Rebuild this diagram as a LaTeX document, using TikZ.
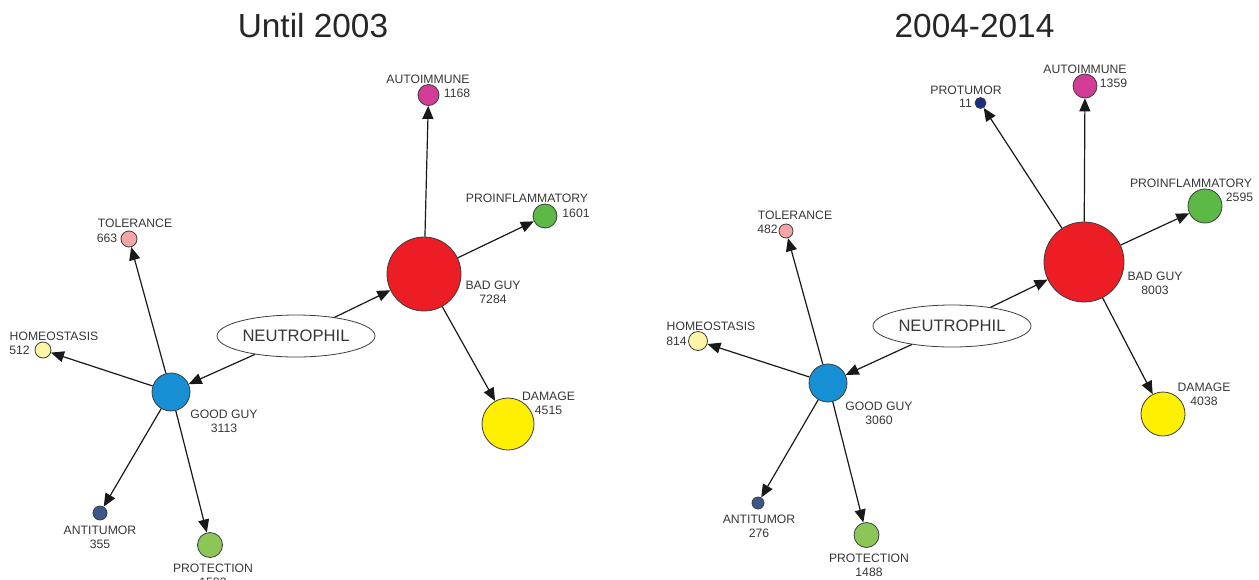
\documentclass[tikz,border=0pt]{standalone}
\usepackage{fontspec}
\setmainfont{Liberation Sans}
\usetikzlibrary{shapes.geometric,arrows.meta}
\definecolor{txt}{RGB}{55,55,55}
\definecolor{outl}{RGB}{60,60,60}
\definecolor{cgood}{RGB}{22,143,212}
\definecolor{cbad}{RGB}{236,29,37}
\definecolor{cauto}{RGB}{210,60,150}
\definecolor{cproinf}{RGB}{92,185,70}
\definecolor{cdam}{RGB}{255,240,0}
\definecolor{ctol}{RGB}{244,166,166}
\definecolor{chom}{RGB}{251,245,165}
\definecolor{canti}{RGB}{58,88,140}
\definecolor{cprot}{RGB}{140,198,87}
\definecolor{cprotu}{RGB}{30,45,138}
\tikzset{
  bub/.style={circle, draw=outl, line width=0.8pt, inner sep=0pt, minimum size=#1},
  neu/.style={ellipse, draw=outl, line width=0.8pt, inner sep=0pt, minimum width=158pt, minimum height=42pt, font=\fontsize{16.6}{18}\selectfont, text=txt},
  lab/.style={font=\fontsize{12.2}{13.6}\selectfont, text=txt, inner sep=0pt, align=center},
  ttl/.style={font=\fontsize{33.4}{36}\selectfont, text=black!85, inner sep=0pt, anchor=base},
  arr/.style={line width=1.2pt, draw=black!90, -{Triangle[length=13pt,width=11pt]}}
}
\begin{document}
\begin{tikzpicture}[x=1pt,y=-1pt]
\useasboundingbox (0,0) rectangle (1259,579);
\clip (0,0) rectangle (1259,579);
% titles
\node[ttl] (t1) at (313,37) {Until 2003};
\node[ttl] (t2) at (974.5,37) {2004-2014};
% ---------------- left panel
\node[neu] (neuL) at (296,336) {NEUTROPHIL};
\node[bub=38pt, fill=cgood] (ggL) at (171,392) {};
\node[bub=74pt, fill=cbad] (bgL) at (424,274) {};
\node[bub=21pt, fill=cauto] (auL) at (428.5,95) {};
\node[bub=24pt, fill=cproinf] (piL) at (545,216) {};
\node[bub=52pt, fill=cdam] (dmL) at (508,424) {};
\node[bub=16pt, fill=ctol] (toL) at (129,239) {};
\node[bub=16pt, fill=chom] (hoL) at (43,350) {};
\node[bub=14pt, fill=canti] (anL) at (100,513) {};
\node[bub=25pt, fill=cprot] (prL) at (210,545) {};
\draw[arr] (neuL) -- (ggL);
\draw[arr] (neuL) -- (bgL);
\draw[arr] (ggL) -- (toL);
\draw[arr] (ggL) -- (hoL);
\draw[arr] (ggL) -- (anL);
\draw[arr] (ggL) -- (prL);
\draw[arr] (bgL) -- (auL);
\draw[arr] (bgL) -- (piL);
\draw[arr] (bgL) -- (dmL);
\node[lab] (lbgL) at (493,292.5) {BAD GUY\\7284};
\node[lab] (lggL) at (224,421) {GOOD GUY\\3113};
\node[lab] (lauL) at (428,79) {AUTOIMMUNE};
\node[lab] (nauL) at (457,93) {1168};
\node[lab] (lpiL) at (527,198) {PROINFLAMMATORY};
\node[lab] (npiL) at (576,213) {1601};
\node[lab] (ldmL) at (548.5,403.5) {DAMAGE\\4515};
\node[lab] (ltoL) at (135,223) {TOLERANCE};
\node[lab] (ntoL) at (107,238) {663};
\node[lab] (lhoL) at (54,336) {HOMEOSTASIS};
\node[lab] (nhoL) at (19.5,350) {512};
\node[lab] (lanL) at (100,537) {ANTITUMOR\\355};
\node[lab] (lprL) at (213,575) {PROTECTION\\1583};
% ---------------- right panel
\node[neu] (neuR) at (952,326) {NEUTROPHIL};
\node[bub=38pt, fill=cgood] (ggR) at (828,383) {};
\node[bub=80pt, fill=cbad] (bgR) at (1084,262) {};
\node[bub=14pt, fill=ctol] (toR) at (786,231) {};
\node[bub=19pt, fill=chom] (hoR) at (698,341) {};
\node[bub=12pt, fill=canti] (anR) at (758,503) {};
\node[bub=25pt, fill=cprot] (prR) at (866.5,535) {};
\node[bub=11pt, fill=cprotu] (ptR) at (980.5,103) {};
\node[bub=24pt, fill=cauto] (auR) at (1085,86) {};
\node[bub=34pt, fill=cproinf] (piR) at (1205,206) {};
\node[bub=44pt, fill=cdam] (dmR) at (1163,414) {};
\draw[arr] (neuR) -- (ggR);
\draw[arr] (neuR) -- (bgR);
\draw[arr] (ggR) -- (toR);
\draw[arr] (ggR) -- (hoR);
\draw[arr] (ggR) -- (anR);
\draw[arr] (ggR) -- (prR);
\draw[arr] (bgR) -- (ptR);
\draw[arr] (bgR) -- (auR);
\draw[arr] (bgR) -- (piR);
\draw[arr] (bgR) -- (dmR);
\node[lab] (lggR) at (879,413) {GOOD GUY\\3060};
\node[lab] (lbgR) at (1155,283.5) {BAD GUY\\8003};
\node[lab] (ltoR) at (795,215) {TOLERANCE};
\node[lab] (ntoR) at (767.5,229) {482};
\node[lab] (lhoR) at (711,326) {HOMEOSTASIS};
\node[lab] (nhoR) at (676.5,341) {814};
\node[lab] (lanR) at (759,526) {ANTITUMOR\\276};
\node[lab] (lprR) at (869,565) {PROTECTION\\1488};
\node[lab] (lptR) at (966,90) {PROTUMOR};
\node[lab] (nptR) at (965.5,103) {11};
\node[lab] (lauR) at (1085,69) {AUTOIMMUNE};
\node[lab] (nauR) at (1113.5,83) {1359};
\node[lab] (lpiR) at (1191,183) {PROINFLAMMATORY};
\node[lab] (npiR) at (1239.5,197) {2595};
\node[lab] (ldmR) at (1204,394) {DAMAGE\\4038};
\end{tikzpicture}
\end{document}
